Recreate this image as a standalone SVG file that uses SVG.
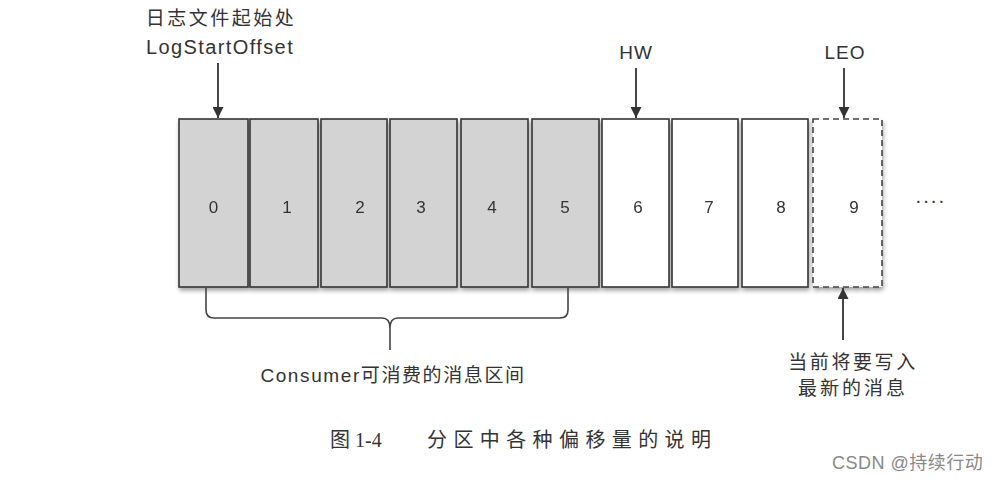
<svg xmlns="http://www.w3.org/2000/svg" width="998" height="481" viewBox="0 0 998 481">
<defs>
<marker id="ah" viewBox="0 0 10 10" refX="10" refY="5" markerWidth="12" markerHeight="11" orient="auto" markerUnits="userSpaceOnUse">
<path d="M0,0 L10,5 L0,10 z" fill="#333"/>
</marker>
<style>
.box{stroke:#333;stroke-width:1.6}
.g{fill:#d3d3d3}
.w{fill:#fff}
.dash{fill:#fff;stroke:#444;stroke-width:1.6;stroke-dasharray:6,4}
.num{font-family:"Liberation Sans","Noto Sans CJK SC",sans-serif;font-size:17px;fill:#333;text-anchor:middle}
.lbl{font-family:"Liberation Sans","Noto Sans CJK SC",sans-serif;font-size:19px;fill:#333;text-anchor:middle}
.cap{font-family:"Liberation Serif","Noto Sans CJK SC",serif;font-size:20px;fill:#333}
.arr{stroke:#333;stroke-width:1.8;fill:none;marker-end:url(#ah)}
.brace{stroke:#444;stroke-width:1.6;fill:none}
</style>
<filter id="sh" x="-10%" y="-10%" width="120%" height="130%">
<feGaussianBlur in="SourceAlpha" stdDeviation="2"/>
<feOffset dx="1" dy="3"/>
<feComponentTransfer><feFuncA type="linear" slope="0.35"/></feComponentTransfer>
<feMerge><feMergeNode/><feMergeNode in="SourceGraphic"/></feMerge>
</filter>
</defs>
<rect width="998" height="481" fill="#fff"/>
<g id="cells" filter="url(#sh)">
<g id="n0"><rect class="box g" x="179" y="119" width="69" height="168"/><text class="num" x="213.5" y="213">0</text></g>
<g id="n1"><rect class="box g" x="250" y="119" width="68" height="168"/><text class="num" x="287" y="213">1</text></g>
<g id="n2"><rect class="box g" x="321" y="119" width="66" height="168"/><text class="num" x="360" y="213">2</text></g>
<g id="n3"><rect class="box g" x="390" y="119" width="67" height="168"/><text class="num" x="421" y="213">3</text></g>
<g id="n4"><rect class="box g" x="461" y="119" width="67" height="168"/><text class="num" x="492" y="213">4</text></g>
<g id="n5"><rect class="box g" x="532" y="119" width="67" height="168"/><text class="num" x="565" y="213">5</text></g>
<g id="n6"><rect class="box w" x="602" y="119" width="67" height="168"/><text class="num" x="638" y="213">6</text></g>
<g id="n7"><rect class="box w" x="672" y="119" width="66" height="168"/><text class="num" x="709" y="213">7</text></g>
<g id="n8"><rect class="box w" x="742" y="119" width="66" height="168"/><text class="num" x="781" y="213">8</text></g>
<g id="n9"><rect class="dash" x="813" y="119" width="69" height="168"/><text class="num" x="854" y="213">9</text></g>
</g>
<g id="dots"><text x="915" y="207" style="font-family:'Liberation Sans',sans-serif;font-size:20px;fill:#333;letter-spacing:1px">····</text></g>
<g id="labels">
<text class="lbl" x="221" y="25" style="letter-spacing:2.5px">日志文件起始处</text>
<text class="lbl" x="220" y="54" style="font-size:20px;letter-spacing:1.4px">LogStartOffset</text>
<text class="lbl" x="636" y="59" style="letter-spacing:1px">HW</text>
<text class="lbl" x="845" y="59" style="letter-spacing:1px">LEO</text>
<text class="lbl" x="393" y="382" style="letter-spacing:1.6px">Consumer可消费的消息区间</text>
<text class="lbl" x="853" y="369" style="letter-spacing:2.6px">当前将要写入</text>
<text class="lbl" x="853" y="395" style="letter-spacing:3px">最新的消息</text>
</g>
<g id="connectors">
<line class="arr" x1="218" y1="63" x2="218" y2="118"/>
<line class="arr" x1="636" y1="68" x2="636" y2="118"/>
<line class="arr" x1="844" y1="68" x2="844" y2="118"/>
<line class="arr" x1="843" y1="340" x2="843" y2="288"/>
<path class="brace" d="M206,288 V310 Q206,318 214,318 H382 Q390,318 390,328 V350 M390,328 Q390,318 398,318 H560 Q568,318 568,310 V288"/>
</g>
<g id="caption">
<text class="cap" x="330" y="447">图</text>
<text class="cap" x="355" y="447">1-4</text>
<text class="cap" x="427" y="447" style="letter-spacing:6.4px">分区中各种偏移量的说明</text>
</g>
<g id="watermark">
<text x="832" y="469" style="font-family:'Liberation Sans','Noto Sans CJK SC',sans-serif;font-size:18px;fill:#888;letter-spacing:0.5px">CSDN @持续行动</text>
</g>
</svg>
